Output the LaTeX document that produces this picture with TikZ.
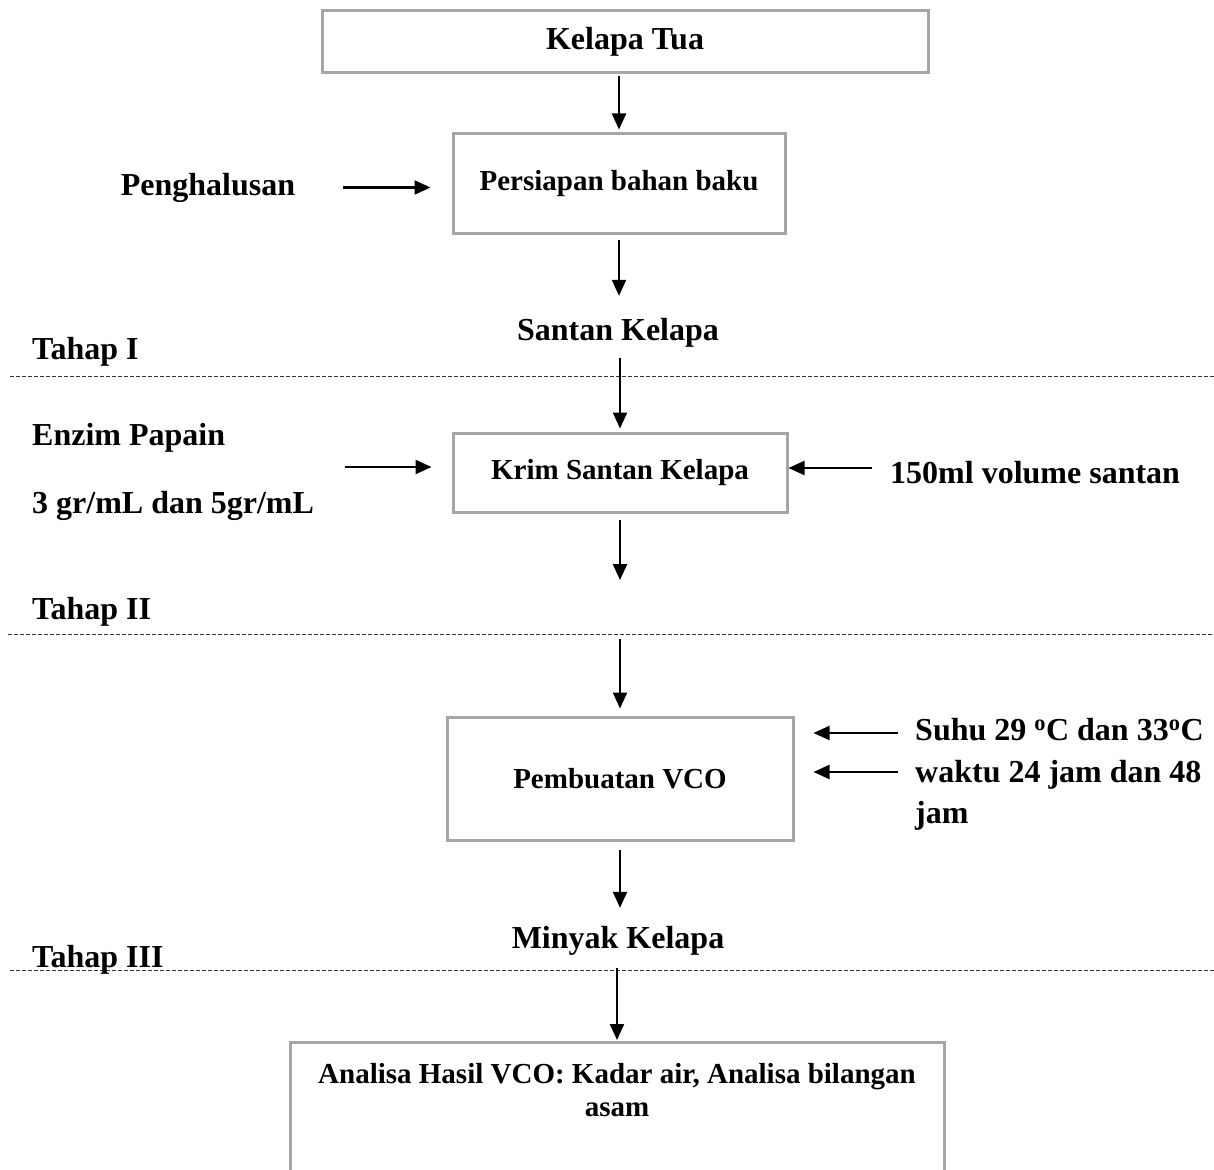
\documentclass[tikz,border=0pt]{standalone}
\usepackage{fontspec}
\setmainfont{Liberation Serif}
\usetikzlibrary{arrows.meta,calc}
\definecolor{boxgray}{HTML}{A6A6A6}
\begin{document}
\begin{tikzpicture}[x=1pt,y=-1pt,
  box/.style={draw=boxgray,line width=3pt,inner sep=0pt,font=\fontsize{29}{33}\selectfont\bfseries},
  lbl/.style={inner sep=0pt,text height=22pt,text depth=7pt,font=\fontsize{32}{40}\selectfont\bfseries},
  arr/.style={line width=2.2pt,-{Triangle[length=16pt,width=14pt]}},
  sep/.style={dash pattern=on 4pt off 2pt,line width=1pt,draw=black!80}]
\useasboundingbox (0,0) rectangle (1214,1169);

% separators
\coordinate (d1a) at (10,376); \coordinate (d1b) at (1214,376);
\coordinate (d2a) at (8,634);  \coordinate (d2b) at (1214,634);
\coordinate (d3a) at (10,970); \coordinate (d3b) at (1214,970);
\draw[sep] (d1a) -- (d1b);
\draw[sep] (d2a) -- (d2b);
\draw[sep] (d3a) -- (d3b);

% boxes
\node[box,minimum width=606pt,minimum height=62pt,font=\fontsize{32}{40}\selectfont\bfseries] (b1) at (625,42) {Kelapa Tua};
\node[box,minimum width=332pt,minimum height=99pt] (b2) at (619,183.5) {Persiapan bahan baku};
\node[box,minimum width=334pt,minimum height=79pt] (b3) at (620,472.5) {Krim Santan Kelapa};
\node[box,minimum width=346pt,minimum height=123pt] (b4) at (620,778.5) {Pembuatan VCO};
\node[box,minimum width=654pt,minimum height=260pt,anchor=north] (b5) at (617,1041) {};
\node[align=center,anchor=north,inner sep=0pt,font=\fontsize{29}{33}\selectfont\bfseries] (b5t) at (617,1063) {Analisa Hasil VCO: Kadar air, Analisa bilangan\\asam};

% labels
\node[lbl,anchor=base] (pengh) at (208,195) {Penghalusan};
\node[lbl,anchor=base] (santan) at (618,340) {Santan Kelapa};
\node[lbl,anchor=base west] (t1) at (32,359) {Tahap I};
\node[lbl,anchor=base west] (enz1) at (32,445) {Enzim Papain};
\node[lbl,anchor=base west] (enz2) at (32,513) {3 gr/mL dan 5gr/mL};
\node[lbl,anchor=base west] (vol) at (890,483) {150ml volume santan};
\node[lbl,anchor=base west] (t2) at (32,619) {Tahap II};
\node[lbl,anchor=base west] (suhu) at (915,740) {Suhu 29 \textsuperscript{o}C dan 33\textsuperscript{o}C};
\node[lbl,anchor=base west] (waktu) at (915,782) {waktu 24 jam dan 48};
\node[lbl,anchor=base west] (jam) at (915,823) {jam};
\node[lbl,anchor=base] (minyak) at (618,948) {Minyak Kelapa};
\node[lbl,anchor=base west] (t3) at (32,967) {Tahap III};

% vertical arrows
\draw[arr,shorten <=2pt,shorten >=3pt] (b1.south -| b2.north) -- (b2.north);
\draw[arr,shorten <=5pt,shorten >=22pt] (b2.south) -- (b2.south |- santan.north);
\draw[arr,shorten <=11pt,shorten >=3pt] (santan.south -| b3.north) -- (b3.north);
\coordinate (c1) at (619,580);
\draw[arr,shorten <=6pt] (b3.south) -- (b3.south |- c1);
\coordinate (c2) at (619,639);
\draw[arr,shorten >=7pt] (c2 -| b4.north) -- (b4.north);
\draw[arr,shorten <=8pt,shorten >=18pt] (b4.south) -- (b4.south |- minyak.north);
\draw[arr,shorten <=13pt,shorten >=1pt] (minyak.south -| b5.north) -- (b5.north);

% horizontal arrows
\draw[arr,shorten <=48pt,shorten >=21pt] (pengh.east) -- (pengh.east -| b2.west);
\coordinate (enzsrc) at (345,467);
\draw[arr,shorten >=20pt] (enzsrc) -- (enzsrc -| b3.west);
\coordinate (volsrc) at (872,468);
\draw[arr] (volsrc) -- (volsrc -| b3.east);
\coordinate (suhusrc) at (898,733);
\draw[arr,shorten >=19pt] (suhusrc) -- (suhusrc -| b4.east);
\coordinate (waktusrc) at (898,772);
\draw[arr,shorten >=19pt] (waktusrc) -- (waktusrc -| b4.east);
\end{tikzpicture}
\end{document}
